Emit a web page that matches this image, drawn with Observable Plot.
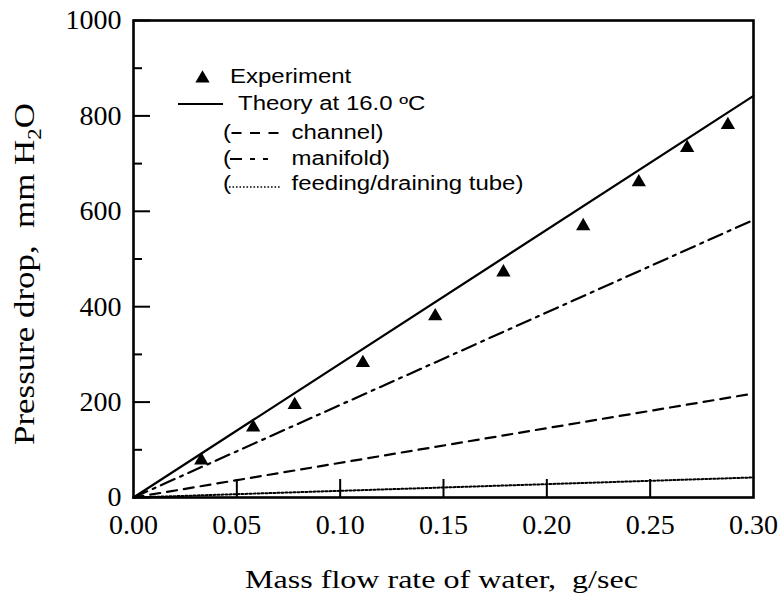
<!DOCTYPE html>
<html><head><meta charset="utf-8">
<script src="https://cdn.jsdelivr.net/npm/d3@7"></script>
<script src="https://cdn.jsdelivr.net/npm/@observablehq/plot@0.6"></script>
<style>
html,body{margin:0;padding:0;background:#fff;}
#chart{position:relative;width:782px;height:601px;}
svg text{white-space:pre;}
</style></head><body><div id="chart"></div>
<script>
// Experimental points
const flowRate = [0.0328, 0.0579, 0.078, 0.111, 0.146, 0.179, 0.2176, 0.2445, 0.2679, 0.2876];
const pressureDrop = [78, 147, 194, 282, 380, 472, 569, 661, 733, 781];
// Theory lines (linear through origin)
const lineFlow = [0, 0.30];
const theory = [0, 842];
const channel = [0, 218];
const manifold = [0, 582];
const tube = [0, 42];
// Ticks
const xTicks = [0, 0.05, 0.10, 0.15, 0.20, 0.25, 0.30];
const xInnerTicks = [0.05, 0.10, 0.15, 0.20, 0.25];
const yTicks = [0, 200, 400, 600, 800, 1000];
const yMinor = [100, 300, 500, 700, 900];
// Text
const xLabel = "Mass flow rate of water,  g/sec";
const yLabelMain = "Pressure drop,  mm H";
const yLabelSub = "2";
const yLabelEnd = "O";
const legendLabels = ["Experiment", "Theory at 16.0 \u00baC", "channel)", "manifold)", "feeding/draining tube)"];

const rows = (xs, ys) => xs.map((x, i) => ({x, y: ys[i]}));
const exp = rows(flowRate, pressureDrop);

const W = 782, H = 601, mL = 133, mR = 29, mT = 20, mB = 104;
const innerW = W - mL - mR, innerH = H - mT - mB;

const plot = Plot.plot({
  width: W, height: H,
  marginLeft: mL, marginRight: mR, marginTop: mT, marginBottom: mB,
  x: {domain: [0, 0.3], label: null},
  y: {domain: [0, 1000], label: null},
  style: {fontFamily: "'Liberation Serif', 'Times New Roman', serif", color: "black", background: "white", overflow: "visible"},
  marks: [
    Plot.line(rows(lineFlow, tube), {x: "x", y: "y", stroke: "black", strokeWidth: 2, strokeDasharray: "2,2"}),
    Plot.line(rows(lineFlow, channel), {x: "x", y: "y", stroke: "black", strokeWidth: 2.2, strokeDasharray: "10,7"}),
    Plot.line(rows(lineFlow, manifold), {x: "x", y: "y", stroke: "black", strokeWidth: 2.2, strokeDasharray: "15,6,3,6"}),
    Plot.line(rows(lineFlow, theory), {x: "x", y: "y", stroke: "black", strokeWidth: 2.2}),
    Plot.dot(exp, {x: "x", y: "y", symbol: "triangle", r: 5.3, fill: "black", stroke: null}),
    Plot.tickX(xInnerTicks, {x: d => d, insetTop: innerH - 18, stroke: "black", strokeWidth: 2}),
    Plot.tickY(yTicks, {y: d => d, insetRight: innerW - 17, stroke: "black", strokeWidth: 2}),
    Plot.tickY(yMinor, {y: d => d, insetRight: innerW - 9, stroke: "black", strokeWidth: 2}),
    Plot.frame({stroke: "black", strokeWidth: 2.6}),
    Plot.axisX(xTicks, {tickSize: 0, tickPadding: 17, tickFormat: d3.format(".2f"), fontSize: 28, label: null}),
    Plot.axisY(yTicks, {tickSize: 0, tickPadding: 12, tickFormat: d => String(d), fontSize: 28, label: null})
  ]
});
document.getElementById("chart").appendChild(plot);

const svg = d3.select(plot);

// Axis titles (stretched horizontally as in the reference)
const xt = svg.append("text")
  .attr("text-anchor", "middle")
  .style("font-family", "'Liberation Serif', serif").style("font-size", "26px").attr("fill", "black")
  .text(xLabel);
{
  const w = xt.node().getComputedTextLength();
  xt.attr("transform", `translate(441.5,588) scale(${393 / w},1)`);
}
const yt = svg.append("text")
  .attr("text-anchor", "middle")
  .style("font-family", "'Liberation Serif', serif").style("font-size", "29px").attr("fill", "black");
yt.append("tspan").text(yLabelMain);
yt.append("tspan").style("font-size", "19px").attr("dy", 7).text(yLabelSub);
yt.append("tspan").attr("dy", -7).text(yLabelEnd);
{
  const w = yt.node().getComputedTextLength();
  yt.attr("transform", `translate(33.5,274) rotate(-90) scale(${342 / w},1)`);
}

// Legend
const lg = svg.append("g").attr("fill", "black").attr("text-anchor", "start")
  .style("font-family", "'Liberation Sans', Arial, sans-serif").style("font-size", "19.5px");
const sx = 1.23;
const ltext = (x, y, s) => lg.append("text").attr("text-anchor", "start").attr("transform", `translate(${x},${y}) scale(${sx},1)`).text(s);
lg.append("path").attr("d", d3.symbol(d3.symbolTriangle, Math.PI * 5.3 * 5.3)()).attr("transform", "translate(202.5,78.5)");
ltext(230, 83, legendLabels[0]);
lg.append("line").attr("x1", 178).attr("x2", 223).attr("y1", 104).attr("y2", 104).attr("stroke", "black").attr("stroke-width", 2);
ltext(238, 110, legendLabels[1]);
ltext(223, 139, "(");
lg.append("line").attr("x1", 231.5).attr("x2", 279).attr("y1", 133).attr("y2", 133).attr("stroke", "black").attr("stroke-width", 2).attr("stroke-dasharray", "10,8.5");
ltext(291.5, 139, legendLabels[2]);
ltext(223, 165, "(");
lg.append("line").attr("x1", 230).attr("x2", 279).attr("y1", 159).attr("y2", 159).attr("stroke", "black").attr("stroke-width", 2).attr("stroke-dasharray", "12,8,5,8,5,20");
ltext(291.5, 165, legendLabels[3]);
ltext(223, 190, "(");
lg.append("line").attr("x1", 229).attr("x2", 281).attr("y1", 187).attr("y2", 187).attr("stroke", "black").attr("stroke-width", 1.6).attr("stroke-dasharray", "1.6,1.9");
ltext(291.5, 190, legendLabels[4]);
</script></body></html>
